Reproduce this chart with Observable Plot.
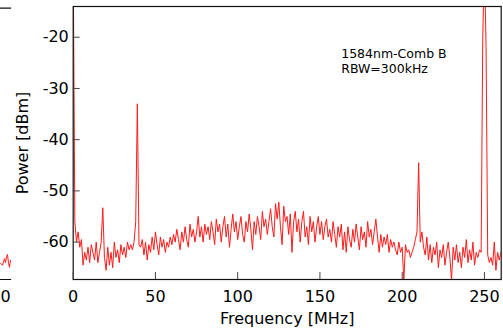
<!DOCTYPE html>
<html><head><meta charset="utf-8">
<script src="https://cdn.jsdelivr.net/npm/d3@7"></script>
<script src="https://cdn.jsdelivr.net/npm/@observablehq/plot@0.6"></script>
<style>
html,body{margin:0;padding:0;background:#fff;}
#wrap{position:relative;width:503px;height:328px;overflow:hidden;background:#fff;}
#wrap svg{position:absolute;top:0;}
</style></head><body><div id="wrap"></div>
<script>
// Main spectrum: power (dBm) sampled every 1 MHz from 0 MHz
const freqStart = 0;
const freqStep = 1;
const power = [
  -5, -56, -60, -58, -61, -59.5, -64.5, -62, -63.5, -61,
  -64, -60.5, -62, -63.5, -60, -64, -62, -60, -53.3, -63,
  -65.5, -61, -64.5, -62, -65, -60, -63, -61.5, -64, -60.5,
  -62.5, -61, -63, -60, -61.5, -60.5, -61.5, -60, -56, -33,
  -60.5, -61, -59.5, -62.5, -60, -63.5, -60.5, -62, -59, -61.5,
  -58, -60.5, -62.5, -59, -61, -59.5, -62, -60, -61, -59,
  -60.5, -58.5, -60, -57.5, -59.5, -61.5, -58, -60, -57, -59.5,
  -61, -56.5, -59, -57.5, -60, -58, -55, -59, -57, -60,
  -56.5, -58.5, -57, -59.5, -56, -58, -60.5, -55.5, -58, -56.5,
  -60, -57, -55, -59, -56.5, -61, -57.5, -54.5, -58, -56,
  -59.5, -57, -55, -58.5, -60, -56, -58, -54.5, -57.5, -61.5,
  -56, -58.5, -55, -57, -59.5, -54, -57, -55.5, -58.5, -56,
  -53.5, -57, -59, -52.5, -55.5, -52.2, -57, -60.5, -53, -56,
  -55, -58.5, -54.5, -62, -56, -54, -58, -55.5, -60, -56,
  -54, -59, -57, -60.5, -55, -58, -56, -60, -57, -55,
  -58.5, -56, -59.5, -57, -55.5, -59, -57.5, -60, -56, -58.5,
  -61, -57, -59, -56.5, -61.5, -58, -62, -57, -59.5, -61,
  -57.5, -60, -56.5, -59, -61.5, -57, -59.5, -58, -61, -56,
  -59, -57.5, -60.5, -58, -55.5, -59, -62, -58.5, -61, -59,
  -60.5, -58.5, -62, -59.5, -61, -60, -61.5, -62.5, -60, -62,
  -61, -67.5, -60.5, -62, -61.5, -63, -62, -61, -59.5, -58,
  -44.5, -60, -58, -61, -62.5, -59, -63.5, -60.5, -64, -61,
  -62.5, -60, -65, -61.5, -63, -60.5, -64.5, -62, -60, -63,
  -67.5, -61, -63.5, -60.5, -64, -62, -65, -61, -63, -59.5,
  -64, -61.5, -63.5, -60, -64.5, -62, -63, -61.5, -62, -20,
  -5, -22, -62.5, -64, -63, -64.5, -60, -65.5, -62, -63.5,
  -62
];
const xTicks = [0, 50, 100, 150, 200, 250];
const yTicks = [-20, -30, -40, -50, -60];
const xDomain = [0, 260.2];
const yDomain = [-67.3, -14];
const xLabel = "Frequency [MHz]";
const yLabel = "Power [dBm]";
const annotation = ["1584nm-Comb B", "RBW=300kHz"];

// Edge of the neighbouring panel (left)
const prevFreq = [254, 255.6, 257.2, 258, 258.8, 259.6, 260.4, 261.2, 262];
const prevPower = [-64.1, -64.5, -63.2, -64, -62.8, -62.4, -64.1, -64.9, -63.5];
const prevTicks = [250];
const prevDomain = [214, 262];

const data = power.map((p, i) => ({f: freqStart + i * freqStep, p}));
const prevData = prevFreq.map((f, i) => ({f, p: prevPower[i]}));

const font = {fontFamily: "'DejaVu Sans', sans-serif", fontSize: "16px", color: "#000", background: "transparent", overflow: "visible"};

const main = Plot.plot({
  width: 503, height: 328,
  marginLeft: 72.7, marginRight: 2.3, marginTop: 6, marginBottom: 49,
  style: font,
  x: {domain: xDomain},
  y: {domain: yDomain},
  marks: [
    Plot.line(data, {x: "f", y: "p", stroke: "#ff1a1a", strokeWidth: 1, clip: true}),
    Plot.frame({stroke: "#111", strokeWidth: 1.2}),
    Plot.axisX({ticks: xTicks, tickSize: -7, tickPadding: 18, stroke: "#444", tickFormat: d => String(d),
      label: xLabel, labelAnchor: "center", labelOffset: 44, labelArrow: "none"}),
    Plot.axisY({ticks: yTicks, tickSize: -7, tickPadding: 11.4, stroke: "#444", tickFormat: d => String(d),
      label: yLabel, labelAnchor: "center", labelOffset: 57, labelArrow: "none"}),
    Plot.text([annotation.join("\n")], {frameAnchor: "top-left", dx: 268, dy: 40, textAnchor: "start",
      lineAnchor: "top", fontSize: 12.5, lineHeight: 1.26, fill: "#000"})
  ]
});
main.style.left = "0px";

const prev = Plot.plot({
  width: 60, height: 328,
  marginLeft: 0, marginRight: 0, marginTop: 7.7, marginBottom: 49,
  style: font,
  x: {domain: prevDomain},
  y: {domain: yDomain, axis: null},
  marks: [
    Plot.line(prevData, {x: "f", y: "p", stroke: "#ff1a1a", strokeWidth: 1}),
    Plot.frame({anchor: "top", stroke: "#111", strokeWidth: 1.2}),
    Plot.frame({anchor: "bottom", stroke: "#111", strokeWidth: 1.2}),
    Plot.axisX({ticks: prevTicks, tickSize: 0, tickPadding: 11, tickFormat: d => String(d), label: null})
  ]
});
prev.style.left = "-50px";

const wrap = document.getElementById("wrap");
wrap.appendChild(main);
wrap.appendChild(prev);
</script></body></html>
